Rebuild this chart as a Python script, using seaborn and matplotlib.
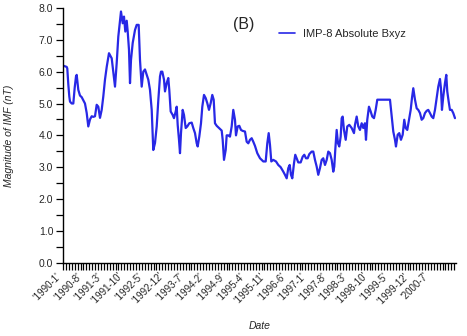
import numpy as np
import pandas as pd
import matplotlib
matplotlib.use("Agg")
import matplotlib.pyplot as plt
from matplotlib.ticker import MultipleLocator, FixedLocator, FixedFormatter, FormatStrFormatter
import seaborn as sns

# Elapsed time in months since January 1990 and the IMF magnitude (nT)
month_index = [
    0.00, 1.27, 1.47, 1.82, 2.16, 2.40, 2.98, 3.53, 4.01, 4.45, 4.69, 5.24,
    5.82, 6.40, 6.95, 7.53, 8.12, 8.66, 9.25, 9.83, 10.38, 10.96, 11.54, 12.09,
    12.67, 13.25, 13.80, 14.38, 14.97, 15.75, 16.68, 17.23, 17.81, 18.39, 18.94,
    19.52, 19.86, 20.45, 20.89, 21.34, 21.82, 22.16, 22.60, 22.95, 23.29, 23.87,
    24.66, 25.24, 25.92, 26.37, 26.95, 27.50, 28.08, 28.66, 29.21, 29.79, 30.38,
    30.92, 31.51, 32.09, 32.64, 33.22, 33.56, 34.01, 34.59, 34.93, 35.51, 36.06,
    36.40, 36.88, 37.57, 38.01, 38.60, 38.94, 39.28, 39.73, 40.07, 40.41, 40.99,
    41.44, 42.02, 42.57, 43.25, 44.08, 44.62, 45.21, 45.79, 46.13, 46.68, 47.26,
    47.71, 48.29, 48.87, 49.42, 50.00, 50.58, 51.13, 51.61, 52.05, 52.64, 53.42,
    54.35, 54.69, 55.14, 55.72, 56.06, 56.61, 57.19, 57.77, 58.32, 58.90, 59.25,
    59.83, 60.38, 60.96, 61.54, 62.33, 62.91, 63.46, 64.04, 64.62, 65.17, 65.75,
    66.54, 67.47, 68.60, 69.42, 69.97, 70.45, 70.89, 71.34, 72.02, 72.95, 73.73,
    74.55, 75.45, 76.03, 76.61, 77.16, 77.64, 78.08, 78.53, 79.11, 79.55, 80.03,
    80.58, 81.40, 82.09, 82.64, 83.22, 83.80, 84.35, 85.17, 85.72, 86.30, 86.88,
    87.43, 88.01, 88.60, 89.14, 89.73, 90.31, 90.86, 91.44, 92.02, 92.57, 92.91,
    93.25, 93.73, 94.18, 94.62, 95.10, 95.45, 95.79, 96.23, 96.82, 97.36, 98.05,
    98.87, 99.66, 100.00, 100.58, 101.13, 101.71, 102.29, 102.84, 103.42, 103.77,
    104.21, 104.79, 105.38, 105.92, 106.51, 107.09, 107.64, 111.99, 112.57,
    113.12, 113.70, 114.04, 114.62, 115.17, 115.75, 116.34, 116.88, 117.36,
    117.91, 118.49, 119.08, 119.52, 119.97, 120.55, 121.13, 121.68, 122.26,
    122.84, 123.39, 123.97, 124.55, 125.10, 125.68, 126.27, 126.82, 127.40,
    127.98, 128.53, 129.11, 129.45, 129.79, 130.24, 130.82, 131.27, 131.61,
    132.09, 132.53, 133.12, 133.66, 134.25,
]
bxyz = [
    6.19, 6.15, 6.10, 5.60, 5.22, 5.06, 5.00, 5.00, 5.50, 5.85, 5.90, 5.43,
    5.25, 5.20, 5.10, 5.00, 4.70, 4.28, 4.50, 4.60, 4.58, 4.60, 4.96, 4.90,
    4.55, 4.80, 5.22, 5.75, 6.15, 6.58, 6.42, 6.00, 5.53, 6.27, 7.10,
    7.60, 7.89, 7.52, 7.73, 7.26, 7.60, 7.26, 6.69, 5.64, 6.37, 6.90,
    7.31, 7.47, 7.47, 6.37, 5.53, 6.00, 6.07, 5.90, 5.75, 5.43, 4.80,
    3.54, 3.76, 4.28, 5.10, 5.85, 6.00, 6.00, 5.75, 5.38, 5.64, 5.80,
    5.43, 4.75, 4.64, 4.54, 4.75, 4.90, 4.33, 3.86, 3.44, 4.07, 4.80,
    4.64, 4.23, 4.28, 4.38, 4.40, 4.23, 4.07, 3.75, 3.65, 3.96, 4.38,
    4.90, 5.27, 5.17, 5.01, 4.80, 5.01, 5.27, 5.12, 4.38, 4.30, 4.23,
    4.15, 3.86, 3.23, 3.54, 4.00, 4.00, 3.96, 4.28, 4.80, 4.49, 4.00,
    4.28, 4.30, 4.17, 4.14, 4.12, 3.80, 3.75, 3.86, 3.91, 3.80, 3.67,
    3.44, 3.28, 3.18, 3.18, 3.75, 4.07, 3.70, 3.18, 3.23, 3.18, 3.07,
    3.00, 2.86, 2.76, 2.65, 2.97, 3.07, 2.76, 2.65, 3.12, 3.39, 3.28,
    3.15, 3.15, 3.33, 3.39, 3.28, 3.28, 3.41, 3.49, 3.49, 3.23, 3.02,
    2.76, 2.97, 3.23, 3.28, 3.07, 3.23, 3.49, 3.44, 3.23, 2.86, 3.02,
    3.54, 4.17, 3.75, 3.65, 3.96, 4.54, 4.59, 4.17, 3.86, 4.28, 4.33,
    4.23, 4.07, 4.33, 4.59, 4.28, 4.17, 4.38, 4.23, 4.38, 3.86,
    4.49, 4.90, 4.75, 4.59, 4.54, 4.80, 5.12, 5.12, 4.59,
    4.12, 3.86, 3.65, 4.02, 4.07, 3.86, 4.02, 4.49, 4.23,
    4.17, 4.49, 4.80, 5.17, 5.48, 5.12, 4.85, 4.80, 4.70,
    4.49, 4.54, 4.70, 4.77, 4.80, 4.70, 4.59, 4.54, 4.80,
    5.17, 5.53, 5.77, 5.48, 4.80, 5.22, 5.64, 5.90, 5.38,
    5.06, 4.80, 4.80, 4.70, 4.54,
]

# Labelled months along the date axis (every 7 months)
tick_months = list(range(0, 127, 7))
tick_labels = ["'1990-1'", "'1990-8'", "'1991-3'", "'1991-10'", "'1992-5'",
               "'1992-12'", "'1993-7'", "'1994-2'", "'1994-9'", "'1995-4'",
               "'1995-11'", "'1996-6'", "'1997-1'", "'1997-8'", "'1998-3'",
               "'1998-10'", "'1999-5'", "'1999-12'", "'2000-7'"]
series_name = "IMP-8 Absolute Bxyz"

df = pd.DataFrame({"month": month_index, "bxyz": bxyz, "series": series_name})

sns.set_style("ticks")
plt.rcParams["font.family"] = ["Liberation Sans", "DejaVu Sans"]

fig = plt.figure(figsize=(4.67, 3.36), dpi=100)
ax = fig.add_axes([63 / 467, 1 - 262.7 / 336, (456 - 63) / 467, (262.7 - 8) / 336])

sns.lineplot(data=df, x="month", y="bxyz", hue="series", palette=["#2828e6"],
             estimator=None, sort=False, linewidth=1.6, ax=ax, legend=False)

ax.set_xlim(0, 134.6)
ax.set_ylim(0, 8)
sns.despine(ax=ax)
for sp in ("left", "bottom"):
    ax.spines[sp].set_color("black")
    ax.spines[sp].set_linewidth(1.0)

ax.yaxis.set_major_locator(MultipleLocator(1.0))
ax.yaxis.set_minor_locator(MultipleLocator(0.5))
ax.yaxis.set_major_formatter(FormatStrFormatter("%.1f"))
ax.xaxis.set_major_locator(FixedLocator(tick_months))
ax.xaxis.set_major_formatter(FixedFormatter(tick_labels))
ax.xaxis.set_minor_locator(MultipleLocator(1))
ax.tick_params(axis="both", which="both", direction="out", length=5,
               width=0.9, color="black")
ax.tick_params(axis="x", which="major", pad=1, labelsize=7)
ax.tick_params(axis="y", which="major", pad=2, labelsize=7.5)
for lbl in ax.get_xticklabels():
    lbl.set_rotation(45)
    lbl.set_ha("right")
    lbl.set_va("top")

ax.set_ylabel("Magnitude of IMF (nT)", fontsize=7.5, style="italic")
ax.yaxis.set_label_coords(-0.125, 0.5)
ax.set_xlabel("Date", fontsize=7.5, style="italic")
ax.xaxis.set_label_coords(0.5, -0.23)

fig.text(244 / 467, 1 - 25 / 336, "(B)", fontsize=11.5, ha="center", va="center")

handle = plt.Line2D([], [], color="#2828e6", linewidth=1.2)
fig.legend([handle], [series_name], loc="center left",
           bbox_to_anchor=(279 / 467, 1 - 34 / 336), frameon=False,
           fontsize=8, handlelength=1.4, handletextpad=0.8,
           borderpad=0, borderaxespad=0)

fig.savefig("out.png", dpi=100)
